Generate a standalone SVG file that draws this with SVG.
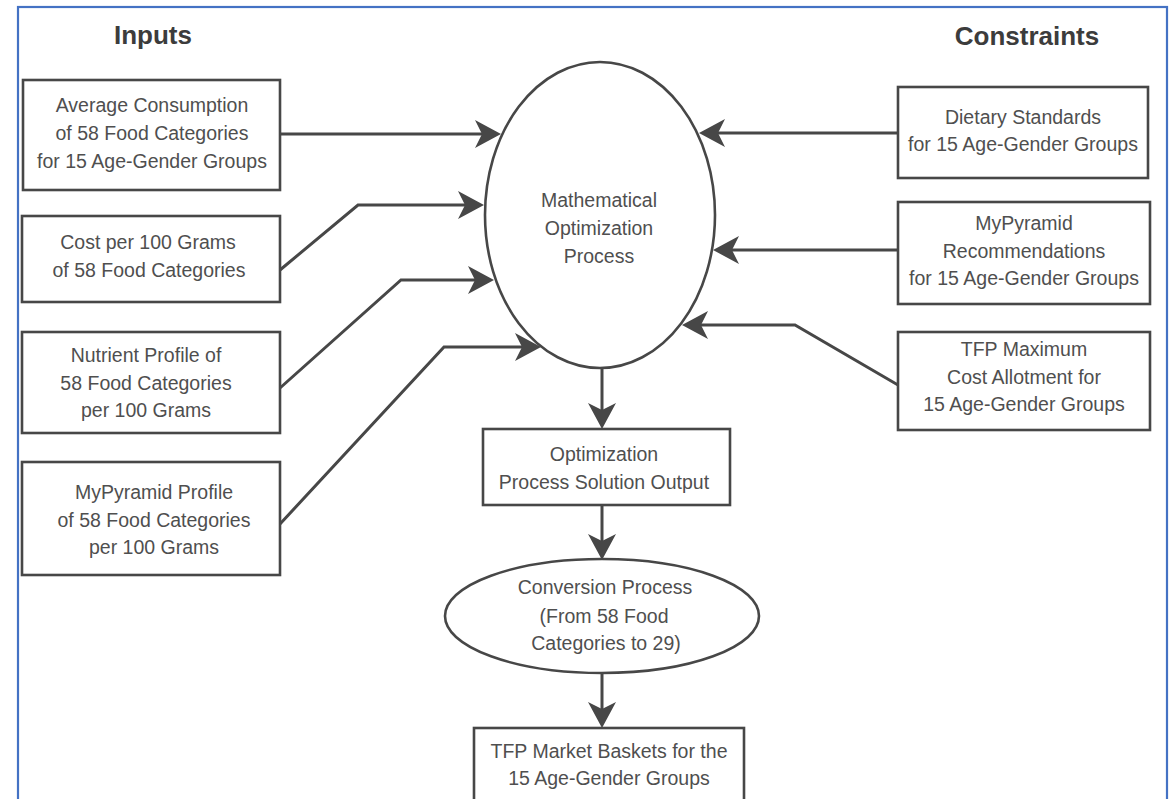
<svg xmlns="http://www.w3.org/2000/svg" width="1173" height="799" viewBox="0 0 1173 799">
<style>
  .box { fill: #ffffff; stroke: #474747; stroke-width: 2.6; }
  .lbl { font-family: "Liberation Sans", Arial, Helvetica, sans-serif; font-size: 19.5px; fill: #4f4f4f; text-anchor: middle; }
  .head { font-family: "Liberation Sans", Arial, Helvetica, sans-serif; font-size: 26px; font-weight: bold; fill: #3c3c3c; text-anchor: middle; }
  .conn { fill: none; stroke: #474747; stroke-width: 3; marker-end: url(#arrow); }
</style>
<defs>
  <marker id="arrow" markerUnits="userSpaceOnUse" markerWidth="26" markerHeight="28" viewBox="0 0 26 28" refX="18" refY="14" orient="auto">
    <path d="M0,0 L26,14 L0,28 L7,14 Z" fill="#474747"/>
  </marker>
</defs>
<rect width="1173" height="799" fill="#ffffff"/>
<rect id="frame" x="18" y="7" width="1149" height="830" fill="none" stroke="#4472C4" stroke-width="2.2"/>

<text class="head" x="153" y="44">Inputs</text>
<text class="head" x="1027" y="45">Constraints</text>

<g id="connectors">
  <polyline class="conn" points="280,134 493,134"/>
  <polyline class="conn" points="280,270 358,205 476,205"/>
  <polyline class="conn" points="280,388 401,280 486,280"/>
  <polyline class="conn" points="280,524 444,347 533,347"/>
  <polyline class="conn" points="898,133 707,133"/>
  <polyline class="conn" points="898,250 721,250"/>
  <polyline class="conn" points="898,385 795,325 690,325"/>
  <polyline class="conn" points="602,368 602,421"/>
  <polyline class="conn" points="602,505 602,552"/>
  <polyline class="conn" points="602,673 602,720"/>
</g>

<g id="avg-consumption">
  <rect class="box" x="23" y="80" width="257" height="110"/>
  <text class="lbl" x="152" y="112">Average Consumption</text>
  <text class="lbl" x="152" y="140">of 58 Food Categories</text>
  <text class="lbl" x="152" y="168">for 15 Age-Gender Groups</text>
</g>
<g id="cost-per-100g">
  <rect class="box" x="22" y="216" width="258" height="86"/>
  <text class="lbl" x="148" y="249">Cost per 100 Grams</text>
  <text class="lbl" x="149" y="277">of 58 Food Categories</text>
</g>
<g id="nutrient-profile">
  <rect class="box" x="22" y="332" width="258" height="101"/>
  <text class="lbl" x="146" y="362">Nutrient Profile of</text>
  <text class="lbl" x="146" y="390">58 Food Categories</text>
  <text class="lbl" x="146" y="417">per 100 Grams</text>
</g>
<g id="mypyramid-profile">
  <rect class="box" x="22" y="462" width="258" height="113"/>
  <text class="lbl" x="154" y="499">MyPyramid Profile</text>
  <text class="lbl" x="154" y="527">of 58 Food Categories</text>
  <text class="lbl" x="154" y="554">per 100 Grams</text>
</g>

<g id="math-optimization">
  <ellipse class="box" cx="600" cy="215" rx="115" ry="153"/>
  <text class="lbl" x="599" y="207">Mathematical</text>
  <text class="lbl" x="599" y="235">Optimization</text>
  <text class="lbl" x="599" y="263">Process</text>
</g>

<g id="dietary-standards">
  <rect class="box" x="898" y="87" width="250" height="91"/>
  <text class="lbl" x="1023" y="124">Dietary Standards</text>
  <text class="lbl" x="1023" y="151">for 15 Age-Gender Groups</text>
</g>
<g id="mypyramid-recommendations">
  <rect class="box" x="898" y="202" width="252" height="102"/>
  <text class="lbl" x="1024" y="230">MyPyramid</text>
  <text class="lbl" x="1024" y="258">Recommendations</text>
  <text class="lbl" x="1024" y="285">for 15 Age-Gender Groups</text>
</g>
<g id="tfp-max-cost">
  <rect class="box" x="898" y="332" width="252" height="98"/>
  <text class="lbl" x="1024" y="356">TFP Maximum</text>
  <text class="lbl" x="1024" y="384">Cost Allotment for</text>
  <text class="lbl" x="1024" y="411">15 Age-Gender Groups</text>
</g>

<g id="solution-output">
  <rect class="box" x="483" y="429" width="247" height="76"/>
  <text class="lbl" x="604" y="461">Optimization</text>
  <text class="lbl" x="604" y="489">Process Solution Output</text>
</g>

<g id="conversion-process">
  <ellipse class="box" cx="602" cy="616" rx="157" ry="57"/>
  <text class="lbl" x="605" y="594">Conversion Process</text>
  <text class="lbl" x="604" y="623">(From 58 Food</text>
  <text class="lbl" x="606" y="650">Categories to 29)</text>
</g>

<g id="tfp-market-baskets">
  <rect class="box" x="474" y="728" width="270" height="100"/>
  <text class="lbl" x="609" y="758">TFP Market Baskets for the</text>
  <text class="lbl" x="609" y="785">15 Age-Gender Groups</text>
</g>
</svg>
